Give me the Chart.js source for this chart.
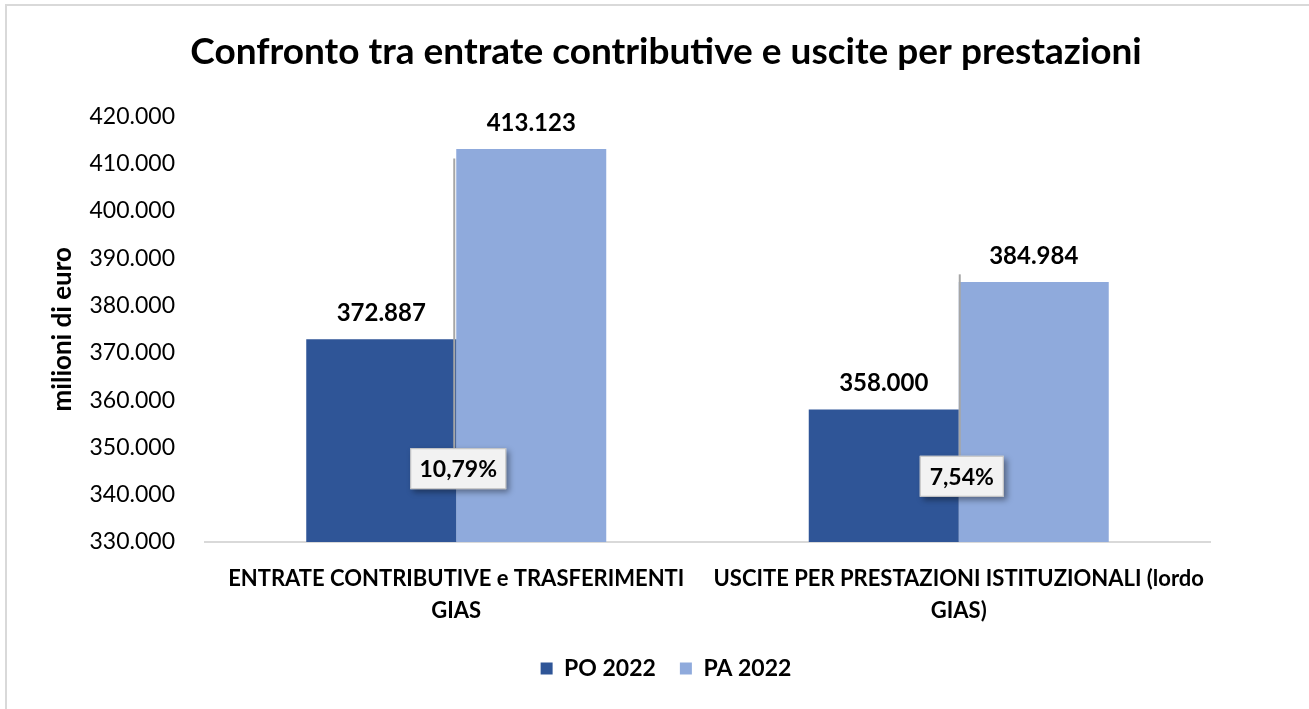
<!DOCTYPE html>
<html>
<head>
<meta charset="utf-8">
<script src="https://cdn.jsdelivr.net/npm/chart.js@4/dist/chart.umd.min.js"></script>
<style>
  html, body { margin: 0; padding: 0; background: #fff; }
  #wrap { position: relative; width: 1309px; height: 709px; }
  canvas { display: block; }
</style>
</head>
<body>
<div id="wrap"><canvas id="c" width="1309" height="709"></canvas></div>
<script>
// ---- data ----
const categories = [
  ['ENTRATE CONTRIBUTIVE e TRASFERIMENTI', 'GIAS'],
  ['USCITE PER PRESTAZIONI ISTITUZIONALI (lordo', 'GIAS)']
];
const seriesNames = ['PO 2022', 'PA 2022'];
const po2022 = [372887, 358000];
const pa2022 = [413123, 384984];
const pctLabels = ['10,79%', '7,54%'];
const yTicks = [330000, 340000, 350000, 360000, 370000, 380000, 390000, 400000, 410000, 420000];

const FONT = 'Lato, "Open Sans", sans-serif';
function fmt(v) {
  return String(Math.round(v)).replace(/\B(?=(\d{3})+(?!\d))/g, '.');
}

const frame = {
  id: 'frame',
  beforeDraw(chart) {
    const ctx = chart.ctx;
    ctx.save();
    ctx.fillStyle = '#fff';
    ctx.fillRect(0, 0, chart.width, chart.height);
    ctx.strokeStyle = '#d9d9d9';
    ctx.lineWidth = 2;
    ctx.beginPath();
    ctx.moveTo(6, chart.height + 5);
    ctx.lineTo(6, 5);
    ctx.lineTo(chart.width + 5, 5);
    ctx.stroke();
    ctx.restore();
  }
};

const valueLabels = {
  id: 'valueLabels',
  afterDatasetsDraw(chart, args, opts) {
    const ctx = chart.ctx;
    ctx.save();
    ctx.font = 'bold 24px ' + FONT;
    ctx.fillStyle = '#000';
    ctx.textAlign = 'center';
    ctx.textBaseline = 'middle';
    chart.data.datasets.forEach((ds, di) => {
      chart.getDatasetMeta(di).data.forEach((el, i) => {
        ctx.fillText(fmt(ds.data[i]), el.x, el.y - opts.offset);
      });
    });
    ctx.restore();
  }
};

const callouts = {
  id: 'callouts',
  afterDraw(chart, args, opts) {
    const ctx = chart.ctx;
    const xs = chart.scales.x, ys = chart.scales.y;
    pctLabels.forEach((txt, i) => {
      const cx = xs.getPixelForValue(i);
      const cy = ys.getPixelForValue(opts.boxValues[i]);
      const w = opts.boxW[i], h = opts.boxH;
      const lx = cx + opts.lineDx[i];
      const ly = ys.getPixelForValue(opts.lineTopValues[i]);
      ctx.save();
      ctx.strokeStyle = '#a6a6a6';
      ctx.lineWidth = 2;
      ctx.beginPath();
      ctx.moveTo(lx, cy - h / 2);
      ctx.lineTo(lx, ly);
      ctx.stroke();
      const bx = cx + opts.boxDx[i] - w / 2, by = cy - h / 2;
      ctx.shadowColor = 'rgba(0,0,0,0.4)';
      ctx.shadowBlur = 6;
      ctx.shadowOffsetX = 3;
      ctx.shadowOffsetY = 3;
      ctx.fillStyle = '#f2f2f2';
      ctx.fillRect(bx, by, w, h);
      ctx.shadowColor = 'transparent';
      ctx.strokeStyle = '#bfbfbf';
      ctx.lineWidth = 1;
      ctx.strokeRect(bx + 0.5, by + 0.5, w - 1, h - 1);
      ctx.fillStyle = '#000';
      ctx.font = 'bold 23px ' + FONT;
      ctx.textAlign = 'center';
      ctx.textBaseline = 'middle';
      ctx.fillText(txt, bx + w / 2, cy + 1);
      ctx.restore();
    });
  }
};

new Chart(document.getElementById('c'), {
  type: 'bar',
  data: {
    labels: categories,
    datasets: [
      { label: seriesNames[0], data: po2022, backgroundColor: '#2f5597', borderWidth: 0 },
      { label: seriesNames[1], data: pa2022, backgroundColor: '#8faadc', borderWidth: 0 }
    ]
  },
  options: {
    responsive: false,
    animation: false,
    layout: { padding: { left: 23, right: 0, top: 0, bottom: 19 } },
    datasets: { bar: { barPercentage: 1, categoryPercentage: 0.597 } },
    scales: {
      x: {
        grid: { display: false },
        border: { display: true, color: '#d9d9d9', width: 2 },
        ticks: { color: '#000', font: { family: FONT, size: 22, weight: 'bold', lineHeight: 1.45 }, padding: 13, maxRotation: 0, autoSkip: false },
        afterFit(s) { s.height = 91; }
      },
      y: {
        min: 330000, max: 420000,
        afterBuildTicks(s) { s.ticks = yTicks.map(v => ({ value: v })); },
        grid: { display: false, drawTicks: false },
        border: { display: false },
        ticks: { color: '#000', font: { family: FONT, size: 23 }, padding: 30, callback: v => fmt(v) },
        title: { display: true, text: 'milioni di euro', color: '#000', font: { family: FONT, size: 26, weight: 'bold' }, padding: { top: 24, bottom: 0 } },
        afterFit(s) { s.width = 182; }
      },
      y2: {
        position: 'right',
        display: true,
        grid: { display: false, drawTicks: false },
        border: { display: false },
        ticks: { display: false },
        afterFit(s) { s.width = 99; }
      }
    },
    plugins: {
      title: {
        display: true,
        text: 'Confronto tra entrate contributive e uscite per prestazioni',
        color: '#000',
        font: { family: FONT, size: 37, weight: 'bold', lineHeight: 1.2 },
        padding: { top: 30, bottom: 42 }
      },
      legend: {
        position: 'bottom',
        labels: { color: '#000', font: { family: FONT, size: 23, weight: 'bold' }, boxWidth: 12, boxHeight: 12, padding: 24 }
      },
      tooltip: { enabled: false },
      valueLabels: { offset: 26 },
      callouts: {
        boxValues: [345500, 343900],
        lineTopValues: [411100, 386600],
        boxW: [96, 84],
        boxH: 41,
        boxDx: [2, 3],
        lineDx: [-2, 1]
      }
    }
  },
  plugins: [frame, valueLabels, callouts]
});
</script>
</body>
</html>
